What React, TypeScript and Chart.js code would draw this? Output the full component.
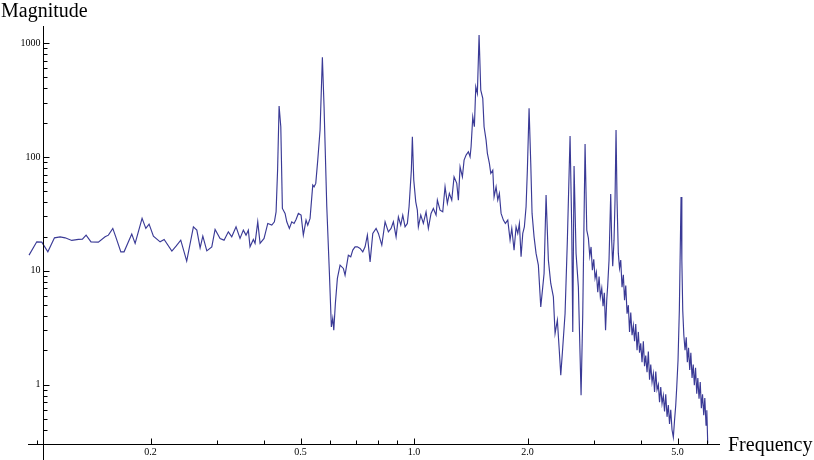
import React, { useEffect, useRef } from 'react';
import { Chart, registerables } from 'chart.js';

Chart.register(...registerables);

// ---- Data (frequency / magnitude), by region ----
const freqLow = [0.0952, 0.0998, 0.1029, 0.1068, 0.1112, 0.1151, 0.1187, 0.1236, 0.1287, 0.1319, 0.1349, 0.1390, 0.1454, 0.1515, 0.1546, 0.1588, 0.1617, 0.1668, 0.1701, 0.1783, 0.1820, 0.1899, 0.1943, 0.1982, 0.2035, 0.2120, 0.2173, 0.2278, 0.2337, 0.2405];
const magLow = [13.71, 17.96, 17.84, 14.66, 19.47, 19.87, 19.47, 18.47, 18.85, 18.96, 20.56, 17.96, 17.84, 19.87, 20.56, 23.55, 19.87, 14.66, 14.66, 20.98, 17.39, 28.84, 23.55, 25.69, 20.15, 17.96, 18.85, 14.87, 16.46, 18.58];

const freqMidLow = [0.2494, 0.2598, 0.2653, 0.2707, 0.2752, 0.2820, 0.2907, 0.2966, 0.3058, 0.3133, 0.3216, 0.3284, 0.3371, 0.3454, 0.3525, 0.3583, 0.3634, 0.3672, 0.3747, 0.3786, 0.3849, 0.3904, 0.4000, 0.4092, 0.4194, 0.4261, 0.4305];
const magMidLow = [12.15, 24.33, 22.75, 15.90, 20.15, 14.96, 16.23, 23.08, 19.23, 18.58, 21.99, 19.87, 24.33, 19.23, 22.75, 20.56, 22.75, 16.23, 18.85, 17.39, 26.92, 17.39, 19.23, 26.06, 25.18, 26.92, 32.96];

const freqFirstPeaks = [0.4345, 0.4385, 0.4431, 0.4474, 0.4548, 0.4596, 0.4669, 0.4738, 0.4805, 0.4864, 0.4933, 0.5015, 0.5085, 0.5170, 0.5224, 0.5298, 0.5386, 0.5429, 0.5486, 0.5553, 0.5632, 0.5712, 0.5771, 0.5868, 0.5963, 0.6034, 0.6086, 0.6124, 0.6184, 0.6260, 0.6364, 0.6493, 0.6561];
const magFirstPeaks = [76.7, 280.3, 184.3, 35.31, 31.91, 26.92, 23.55, 26.92, 26.06, 28.26, 31.91, 30.83, 20.56, 27.86, 25.18, 28.84, 56.60, 54.69, 58.59, 93.9, 172.5, 751.6, 276.3, 36.48, 9.47, 3.21, 3.83, 3.00, 5.16, 8.56, 11.20, 10.48, 9.15];

const freqRise = [0.6694, 0.6793, 0.6877, 0.6974, 0.7073, 0.7191, 0.7311, 0.7414, 0.7519, 0.7645, 0.7772, 0.7930, 0.8043, 0.8211, 0.8378, 0.8548, 0.8689, 0.8813, 0.8960, 0.9087, 0.9220, 0.9333, 0.9465, 0.9599, 0.9699, 0.9836, 0.9897, 0.9982];
const magRise = [13.71, 13.26, 15.18, 16.23, 16.23, 15.71, 14.66, 16.23, 20.56, 11.97, 21.29, 23.55, 21.29, 16.80, 26.92, 21.99, 23.55, 26.92, 19.87, 29.79, 25.18, 30.83, 24.33, 26.06, 36.48, 76.7, 150.5, 62.64];

const freqMain = [1.0104, 1.0203, 1.0266, 1.0418, 1.0585, 1.0760, 1.0913, 1.1093, 1.1252, 1.1439, 1.1530, 1.1720, 1.1915, 1.2084, 1.2256, 1.2406, 1.2589, 1.2768, 1.2981, 1.3109, 1.3246, 1.3434, 1.3574, 1.3741, 1.3935, 1.4080, 1.4166, 1.4314, 1.4455, 1.4579, 1.4722, 1.4875];
const magMain = [40.36, 34.12, 24.33, 30.83, 26.06, 32.96, 23.55, 31.91, 35.31, 30.83, 41.77, 34.12, 32.96, 54.69, 39.07, 47.84, 41.77, 66.96, 58.59, 41.77, 81.99, 66.96, 93.9, 103.9, 111.1, 100.4, 122.9, 225.7, 184.3, 414.4, 362.5, 1180];

const freqFall = [1.5030, 1.5215, 1.5337, 1.5526, 1.5650, 1.5842, 1.5978, 1.6174, 1.6303, 1.6503, 1.6675, 1.6839, 1.7015, 1.7256, 1.7468, 1.7726, 1.7977, 1.8165, 1.8420, 1.8647, 1.8842, 1.9027, 1.9225, 1.9426, 1.9616, 1.9821, 1.9979, 2.0188, 2.0398, 2.0560, 2.0814];
const magFall = [387.6, 327.6, 184.3, 140.8, 107.6, 87.8, 71.7, 76.7, 44.67, 54.69, 41.77, 47.84, 31.91, 27.86, 26.06, 27.86, 18.58, 23.55, 15.18, 24.33, 21.29, 26.06, 13.26, 21.29, 24.33, 36.48, 76.7, 267.5, 87.8, 31.91, 19.87];

const freqCluster = [2.1069, 2.1367, 2.1683, 2.1950, 2.2125, 2.2397, 2.2714, 2.3049, 2.3419, 2.3663, 2.3998, 2.4293, 2.4501, 2.4802, 2.5153, 2.5509, 2.5932, 2.6203, 2.6363, 2.6573, 2.6900, 2.7281, 2.7735, 2.8024, 2.8421, 2.8718];
const magCluster = [14.20, 11.20, 4.81, 7.22, 9.47, 46.24, 12.40, 7.73, 5.89, 2.81, 3.68, 1.93, 1.21, 2.14, 4.21, 18.58, 152.7, 22.75, 2.90, 83.2, 14.20, 7.22, 0.805, 4.21, 129.8, 22.75];

const freqThree = [2.900, 2.925, 2.948, 2.972, 2.997, 3.021, 3.045, 3.071, 3.096, 3.120, 3.147, 3.172, 3.197, 3.221, 3.244, 3.264, 3.290, 3.324, 3.344, 3.365, 3.392, 3.413, 3.434, 3.455];
const magThree = [19.35, 13.44, 16.2, 10.12, 12.6, 8.6, 9.72, 6.48, 8.9, 5.9, 7.03, 4.88, 6.4, 3.00, 5.51, 7.47, 12.40, 47.17, 18.58, 10.98, 18.58, 41.77, 172.5, 41.77];

const freqTail = [3.482, 3.508, 3.534, 3.562, 3.591, 3.617, 3.644, 3.673, 3.702, 3.729, 3.757, 3.787, 3.817, 3.845, 3.873, 3.904, 3.935, 3.964, 3.993, 4.025, 4.057, 4.087, 4.117, 4.150, 4.183, 4.214, 4.245, 4.279, 4.313, 4.345, 4.377, 4.411, 4.447, 4.479, 4.512, 4.548, 4.584, 4.618, 4.652, 4.689, 4.726, 4.761, 4.796, 4.834, 4.873];
const magTail = [14.28, 10.54, 12.40, 7.17, 9.2, 5.51, 7.4, 4.2, 4.98, 2.9, 4.3, 2.71, 3.3, 2.4, 3.4, 2.00, 2.9, 1.9, 2.3, 1.57, 2.4, 1.45, 1.8, 1.28, 1.95, 1.1, 1.5, 1.05, 1.25, 0.86, 1.3, 0.9, 1.0, 0.70, 0.95, 0.68, 0.80, 0.58, 0.82, 0.52, 0.66, 0.45, 0.60, 0.40, 0.344];

const freqFive = [4.909, 4.945, 4.975, 5.015, 5.055, 5.083, 5.108, 5.133, 5.161, 5.196, 5.234, 5.273, 5.308, 5.347, 5.386, 5.423, 5.463, 5.503, 5.540, 5.581, 5.622, 5.659, 5.701, 5.743, 5.782, 5.824, 5.867, 5.906, 5.950, 5.979, 6.012];
const magFive = [0.485, 0.658, 0.947, 1.64, 4.50, 15.18, 44.40, 12.40, 4.50, 2.71, 2.00, 2.6, 1.57, 2.1, 1.34, 1.9, 1.14, 1.5, 0.986, 1.4, 0.83, 1.14, 0.75, 1.05, 0.619, 0.82, 0.537, 0.76, 0.439, 0.594, 0.305];

// ---- Axes / ticks ----
const xRange = [0.0946, 6.48];
const yRange = [0.3, 1417];
const axisOriginX = 0.1037;
const axisOriginY = 0.3;
const xMajorTicks = [0.2, 0.5, 1, 2, 5];
const xMajorLabels = ['0.2', '0.5', '1.0', '2.0', '5.0'];
const xMinorTicks = [0.1, 0.3, 0.4, 0.6, 0.7, 0.8, 0.9, 3, 4, 6];
const yMajorTicks = [1, 10, 100, 1000];
const yMajorLabels = ['1', '10', '100', '1000'];
const yMinorTicks = [0.3, 0.4, 0.5, 0.6, 0.7, 0.8, 0.9, 2, 3, 4, 5, 6, 7, 8, 9, 20, 30, 40, 50, 60, 70, 80, 90, 200, 300, 400, 500, 600, 700, 800, 900];
const xTitle = 'Frequency';
const yTitle = 'Magnitude';

const frequency = [...freqLow, ...freqMidLow, ...freqFirstPeaks, ...freqRise, ...freqMain, ...freqFall, ...freqCluster, ...freqThree, ...freqTail, ...freqFive];
const magnitude = [...magLow, ...magMidLow, ...magFirstPeaks, ...magRise, ...magMain, ...magFall, ...magCluster, ...magThree, ...magTail, ...magFive];

const LINE_COLOR = 'rgb(58,58,150)';
const SERIF = '"Liberation Serif", "Times New Roman", serif';

const axesPlugin = {
  id: 'mmaAxes',
  afterDatasetsDraw(chart: any) {
    const { ctx, chartArea } = chart;
    const x = chart.scales.x;
    const y = chart.scales.y;
    const ax = Math.round(x.getPixelForValue(axisOriginX)) + 0.5;
    const ay = Math.round(y.getPixelForValue(axisOriginY)) + 0.5;
    ctx.save();
    ctx.strokeStyle = '#000';
    ctx.lineWidth = 1;
    ctx.beginPath();
    ctx.moveTo(chartArea.left, ay);
    ctx.lineTo(chartArea.right, ay);
    ctx.moveTo(ax, chartArea.top);
    ctx.lineTo(ax, chart.height);
    yMajorTicks.forEach((v) => {
      const py = Math.round(y.getPixelForValue(v)) + 0.5;
      ctx.moveTo(ax, py);
      ctx.lineTo(ax + 6, py);
    });
    yMinorTicks.forEach((v) => {
      const py = Math.round(y.getPixelForValue(v)) + 0.5;
      ctx.moveTo(ax, py);
      ctx.lineTo(ax + 4, py);
    });
    xMajorTicks.forEach((v) => {
      const px = Math.round(x.getPixelForValue(v)) + 0.5;
      ctx.moveTo(px, ay);
      ctx.lineTo(px, ay - 6);
    });
    xMinorTicks.forEach((v) => {
      const px = Math.round(x.getPixelForValue(v)) + 0.5;
      ctx.moveTo(px, ay);
      ctx.lineTo(px, ay - 4);
    });
    ctx.stroke();

    ctx.fillStyle = '#000';
    ctx.font = `10px ${SERIF}`;
    ctx.textAlign = 'right';
    ctx.textBaseline = 'middle';
    yMajorTicks.forEach((v, i) => {
      ctx.fillText(yMajorLabels[i], ax - 3, y.getPixelForValue(v));
    });
    ctx.textAlign = 'center';
    ctx.textBaseline = 'top';
    xMajorTicks.forEach((v, i) => {
      ctx.fillText(xMajorLabels[i], x.getPixelForValue(v), ay + 3);
    });

    ctx.font = `20px ${SERIF}`;
    ctx.textAlign = 'left';
    ctx.textBaseline = 'alphabetic';
    ctx.fillText(yTitle, 1, 17);
    ctx.fillText(xTitle, chartArea.right + 8, ay + 6);
    ctx.restore();
  },
};

export default function App() {
  const canvasRef = useRef<HTMLCanvasElement | null>(null);

  useEffect(() => {
    document.body.style.margin = '0';
    const canvas = canvasRef.current;
    if (!canvas) return;
    const points = frequency.map((f, i) => ({ x: f, y: magnitude[i] }));
    const chart = new Chart(canvas, {
      type: 'line',
      data: {
        datasets: [
          {
            data: points,
            borderColor: LINE_COLOR,
            borderWidth: 1.15,
            pointRadius: 0,
            tension: 0,
            fill: false,
          },
        ],
      },
      options: {
        responsive: false,
        animation: false,
        events: [],
        layout: { padding: { left: 28, right: 94, top: 26, bottom: 16 } },
        plugins: { legend: { display: false }, tooltip: { enabled: false }, title: { display: false } },
        scales: {
          x: { type: 'logarithmic', display: false, min: xRange[0], max: xRange[1], bounds: 'data' },
          y: { type: 'logarithmic', display: false, min: yRange[0], max: yRange[1], bounds: 'data' },
        },
      },
      plugins: [axesPlugin],
    });
    return () => chart.destroy();
  }, []);

  return (
    <div style={{ width: 814, height: 460, background: '#fff' }}>
      <canvas ref={canvasRef} width={814} height={460} style={{ display: 'block' }} />
    </div>
  );
}
